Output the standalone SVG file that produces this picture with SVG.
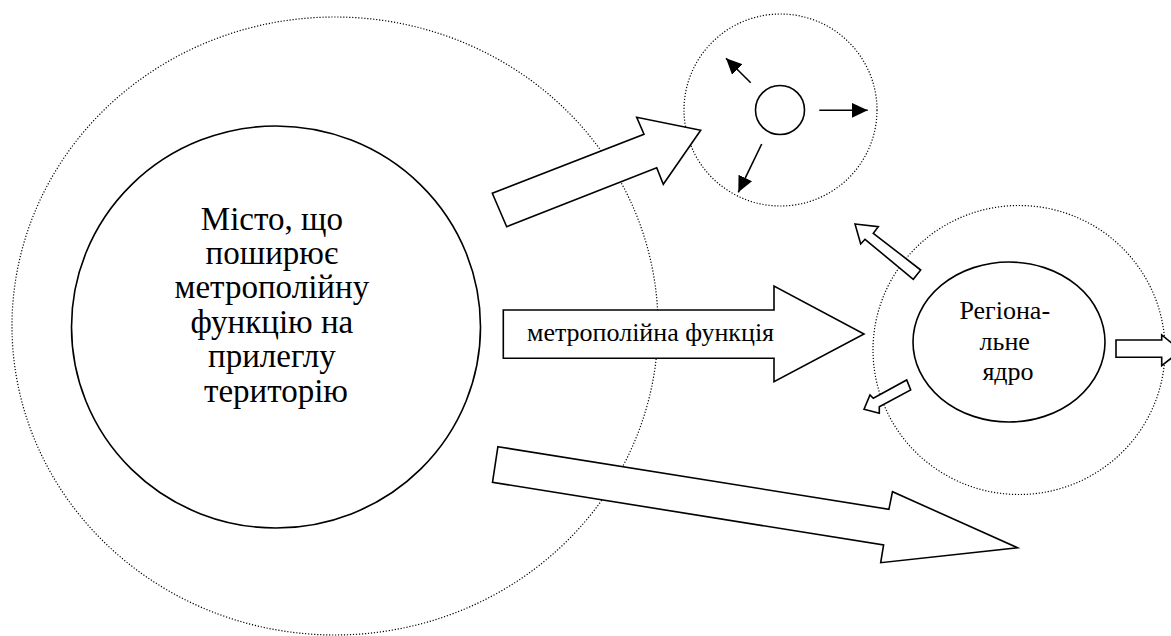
<svg xmlns="http://www.w3.org/2000/svg" width="1171" height="636" viewBox="0 0 1171 636">
<style>
.dot{fill:none;stroke:#000;stroke-width:1.2;stroke-dasharray:1.2 1.8}
.solid{fill:none;stroke:#000;stroke-width:1.6}
.blk{fill:#fff;stroke:#000;stroke-width:1.6;stroke-linejoin:miter}
.t{font-family:'Liberation Serif',serif;fill:#000;text-anchor:middle}
</style>
<defs>
<marker id="ah" markerUnits="userSpaceOnUse" markerWidth="18" markerHeight="16" refX="16" refY="7.5" orient="auto">
<path d="M0,0 L16,7.5 L0,15 Z" fill="#000"/>
</marker>
</defs>
<rect width="1171" height="636" fill="#fff"/>
<g id="zone-big"><ellipse class="dot" cx="335" cy="326" rx="323" ry="309"/></g>
<g id="zone-top"><ellipse class="dot" cx="780.5" cy="110" rx="96.5" ry="96"/></g>
<g id="zone-regional"><ellipse class="dot" cx="1019" cy="350" rx="146" ry="144.5"/></g>
<g id="city">
<ellipse class="solid" cx="276" cy="327" rx="204.5" ry="201"/>
<text class="t" font-size="33">
<tspan x="276" y="230">Місто, що</tspan>
<tspan x="276" y="264">поширює</tspan>
<tspan x="276" y="298">метрополійну</tspan>
<tspan x="276" y="333">функцію на</tspan>
<tspan x="276" y="367">прилеглу</tspan>
<tspan x="276" y="402">територію</tspan>
</text>
</g>
<g id="small-center"><circle class="solid" cx="780" cy="110" r="24.5"/></g>
<g id="regional-core">
<ellipse class="solid" cx="1009" cy="342" rx="96" ry="80"/>
<text class="t" font-size="26">
<tspan x="1008" y="319">Регіона-</tspan>
<tspan x="1008" y="350">льне</tspan>
<tspan x="1008" y="380">ядро</tspan>
</text>
</g>
<g id="connectors">
<polygon class="blk" points="506.7,226.7 492.3,193.3 644,134.3 636.7,117.3 700.7,130.3 663.3,184.3 656.7,167.7"/>
<polygon class="blk" points="503.3,310 774,310 774,286 864,334 774,381.7 774,358.3 503.3,358.3"/>
<text class="t" font-size="26" x="650.5" y="341">метрополійна функція</text>
<polygon class="blk" points="497.9,446.7 888.9,509.3 892.5,491.7 1017.5,547.7 880.7,562.7 883.6,545 492.5,482.3"/>
<polygon class="blk" points="855,224 878.3,226.7 873.3,233.3 920.7,270 913.3,279.3 865,239.3 860.7,244"/>
<polygon class="blk" points="864,409.3 870,395 873.3,398.3 906.7,380 910.7,390 879.3,406.7 879.3,413.3"/>
<polygon class="blk" points="1116,340 1161.7,340 1161.7,335 1181,350.5 1161.7,365.7 1161.7,357.3 1116,357.3"/>
<line class="solid" x1="750.7" y1="82.7" x2="726" y2="58.3" marker-end="url(#ah)"/>
<line class="solid" x1="819.3" y1="110.3" x2="867.7" y2="110.3" marker-end="url(#ah)"/>
<line class="solid" x1="761.7" y1="144" x2="738.3" y2="192.3" marker-end="url(#ah)"/>
</g>
</svg>
